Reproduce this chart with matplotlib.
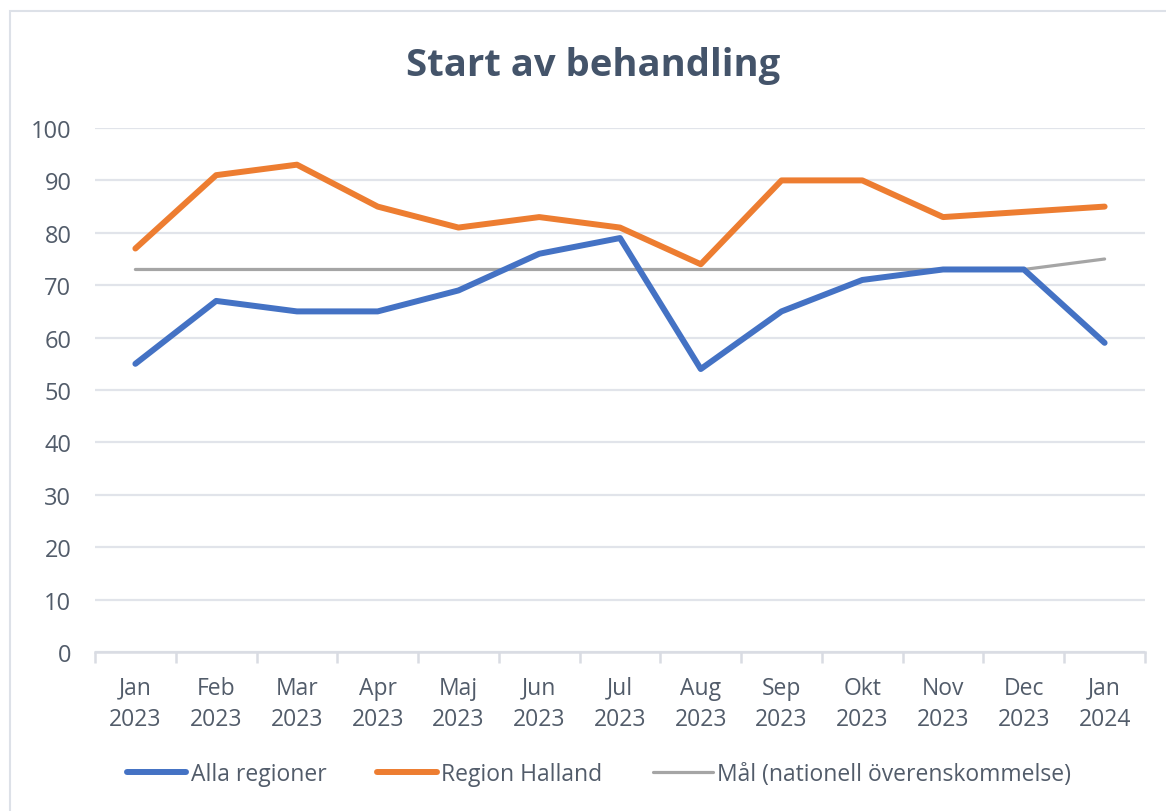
import matplotlib
matplotlib.use("Agg")
import matplotlib.pyplot as plt
from matplotlib.patches import Rectangle

months = ["Jan\n2023", "Feb\n2023", "Mar\n2023", "Apr\n2023", "Maj\n2023", "Jun\n2023",
          "Jul\n2023", "Aug\n2023", "Sep\n2023", "Okt\n2023", "Nov\n2023", "Dec\n2023", "Jan\n2024"]
alla_regioner = [55, 67, 65, 65, 69, 76, 79, 54, 65, 71, 73, 73, 59]
region_halland = [77, 91, 93, 85, 81, 83, 81, 74, 90, 90, 83, 84, 85]
mal = [73, 73, 73, 73, 73, 73, 73, 73, 73, 73, 73, 73, 75]

plt.rcParams['font.family'] = ['Open Sans', 'DejaVu Sans']

W, H = 1166, 812
fig = plt.figure(figsize=(W / 100, H / 100), dpi=100)
fig.patches.append(Rectangle((10 / W, -0.1), 1.2, (812 - 12) / H + 0.1, transform=fig.transFigure,
                             fill=False, edgecolor='#dde1e8', linewidth=1.5))

ax = fig.add_axes([95 / W, (H - 653) / H, (1145 - 95) / W, (653 - 129) / H])
x = list(range(len(months)))
l_mal, = ax.plot(x, mal, color='#A5A5A5', lw=2.3, solid_capstyle='round', clip_on=False, zorder=3)
l_alla, = ax.plot(x, alla_regioner, color='#4472C4', lw=4.3, solid_capstyle='round', clip_on=False, zorder=4)
l_hal, = ax.plot(x, region_halland, color='#ED7D31', lw=4.3, solid_capstyle='round', clip_on=False, zorder=5)

ax.set_xlim(-0.5, len(months) - 0.5)
ax.set_ylim(0, 100)
ax.set_yticks(range(0, 101, 10))
ax.grid(axis='y', color='#e1e4ea', lw=1.6)
ax.set_axisbelow(True)
for s in ['top', 'right', 'left']:
    ax.spines[s].set_visible(False)
ax.spines['bottom'].set_color('#d9dce3')
ax.spines['bottom'].set_linewidth(1.8)

text_col = '#525c6a'
ax.set_xticks(x)
ax.set_xticklabels(months, fontsize=16.5, color=text_col, linespacing=1.4)
ax.set_xticks([i - 0.5 for i in range(len(months) + 1)], minor=True)
ax.tick_params(axis='x', which='major', length=0, pad=17)
ax.tick_params(axis='x', which='minor', length=8, width=1.8, color='#d9dce3')
ax.tick_params(axis='y', length=0, pad=17, labelsize=17, labelcolor=text_col)

fig.text(593 / W, 1 - 66 / H, "Start av behandling", ha='center', va='center',
         fontsize=27.5, fontweight='bold', color='#44546a')

fig.legend([l_alla, l_hal, l_mal],
           ["Alla regioner", "Region Halland", "Mål (nationell överenskommelse)"],
           loc='center', bbox_to_anchor=(599 / W, 1 - 775 / H), ncol=3, frameon=False,
           fontsize=16.5, handlelength=2.6, handletextpad=0.2, columnspacing=2.2,
           labelcolor=text_col)

fig.savefig("out.png", dpi=100)
